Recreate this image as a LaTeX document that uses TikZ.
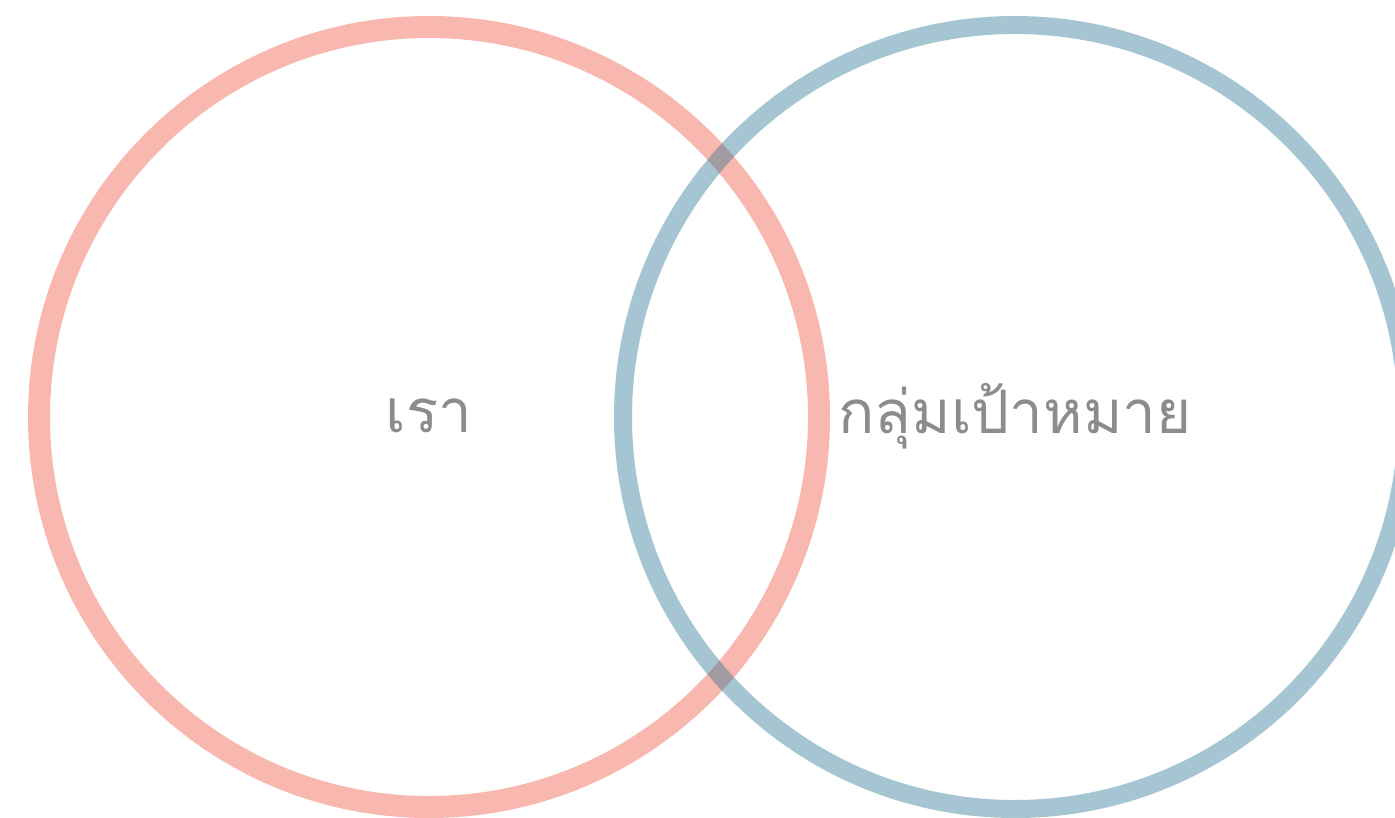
\documentclass[tikz,border=0pt]{standalone}
\usepackage{fontspec}
\newfontfamily\thaifont[Script=Thai]{Loma}
\definecolor{salmonbase}{RGB}{240,78,55}
\definecolor{bluebase}{RGB}{33,112,143}
\definecolor{labelgray}{RGB}{140,140,140}
\tikzset{
  ring/.style={draw opacity=0.4, fill=none},
  lbl/.style={font=\thaifont\fontsize{60}{62}\selectfont, text=labelgray, inner sep=0pt, anchor=center}
}
\begin{document}
\begin{tikzpicture}[x=1pt,y=-1pt]
\useasboundingbox (0,0) rectangle (1395,817);
\fill[white] (0,0) rectangle (1395,817);
\draw[ring, draw=salmonbase, line width=22pt] (429,417) circle[radius=390];
\draw[ring, draw=bluebase, line width=18pt] (1015,417) circle[radius=392];
\node[lbl] (us) at (429,416) {เรา};
\node[lbl] (target) at (1015,416) {กลุ่มเป้าหมาย};
\end{tikzpicture}
\end{document}
